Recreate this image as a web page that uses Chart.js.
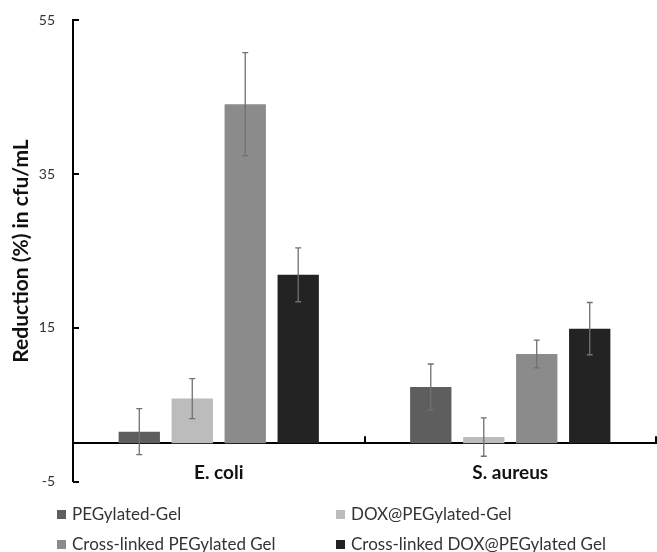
<!DOCTYPE html>
<html>
<head>
<meta charset="utf-8">
<script src="https://cdn.jsdelivr.net/npm/chart.js@4.4.1/dist/chart.umd.min.js"></script>
<style>
  html, body { margin: 0; padding: 0; background: #fff; overflow: hidden; }
  #wrap { position: relative; width: 657px; height: 552px; overflow: hidden; }
  #box { position: absolute; left: 0; top: -6px; width: 657px; height: 514px; }
  .leg { position: absolute; font-family: Lato, "Open Sans", sans-serif; font-size: 17px; color: #333; white-space: nowrap; line-height: 20px; }
  .leg i { display: inline-block; width: 9px; height: 9px; margin-right: 6px; vertical-align: 1px; }
</style>
</head>
<body>
<div id="wrap">
  <div id="box"><canvas id="chart"></canvas></div>
  <div id="legend"></div>
</div>
<script>
const categories = ['E. coli', 'S. aureus'];
const seriesNames = ['PEGylated-Gel', 'DOX@PEGylated-Gel', 'Cross-linked PEGylated Gel', 'Cross-linked DOX@PEGylated Gel'];
const pegGel = [1.5, 7.3];
const doxPegGel = [5.8, 0.8];
const crossPegGel = [44.1, 11.6];
const crossDoxPegGel = [21.9, 14.9];
const pegGelErr = [3.0, 3.0];
const doxPegGelErr = [2.6, 2.5];
const crossPegGelErr = [6.7, 1.8];
const crossDoxPegGelErr = [3.5, 3.4];
const yTicks = [-5, 15, 35, 55];

const colors = ['#5e5e5e', '#bcbcbc', '#8b8b8b', '#232323'];
const values = [pegGel, doxPegGel, crossPegGel, crossDoxPegGel];
const errors = [pegGelErr, doxPegGelErr, crossPegGelErr, crossDoxPegGelErr];

// error bars, inner ticks on the y axis, boundary ticks on the zero line
const extras = {
  id: 'extras',
  afterDatasetsDraw(chart) {
    const ctx = chart.ctx;
    const y = chart.scales.y, x = chart.scales.x;
    const area = chart.chartArea;
    ctx.save();
    ctx.strokeStyle = '#707070';
    ctx.lineWidth = 1.3;
    chart.data.datasets.forEach((ds, i) => {
      const meta = chart.getDatasetMeta(i);
      meta.data.forEach((bar, j) => {
        const v = ds.data[j], e = errors[i][j];
        const top = y.getPixelForValue(v + e), bot = y.getPixelForValue(v - e);
        ctx.beginPath();
        ctx.moveTo(bar.x, top); ctx.lineTo(bar.x, bot);
        ctx.moveTo(bar.x - 3, top); ctx.lineTo(bar.x + 3, top);
        ctx.moveTo(bar.x - 3, bot); ctx.lineTo(bar.x + 3, bot);
        ctx.stroke();
      });
    });
    ctx.strokeStyle = '#000';
    ctx.lineWidth = 2;
    ctx.beginPath();
    yTicks.forEach(t => {
      const py = Math.round(y.getPixelForValue(t));
      ctx.moveTo(area.left, py); ctx.lineTo(area.left + 6, py);
    });
    const y0 = y.getPixelForValue(0);
    const step = x.getPixelForValue(1) - x.getPixelForValue(0);
    for (let k = 0; k < categories.length; k++) {
      const px = Math.round(x.getPixelForValue(k) + step / 2);
      ctx.moveTo(px, y0); ctx.lineTo(px, y0 - 7);
    }
    ctx.stroke();
    ctx.restore();
  }
};

new Chart(document.getElementById('chart'), {
  type: 'bar',
  data: {
    labels: categories,
    datasets: seriesNames.map((name, i) => ({
      label: name,
      data: values[i],
      backgroundColor: colors[i],
      borderWidth: 0,
      categoryPercentage: 0.727,
      barPercentage: 0.78
    }))
  },
  options: {
    responsive: true,
    maintainAspectRatio: false,
    animation: false,
    layout: { padding: { top: 8, right: 1, bottom: 10, left: 0 } },
    plugins: { legend: { display: false }, tooltip: { enabled: false } },
    scales: {
      x: {
        position: { y: 0 },
        afterFit(scale) { scale.height = 0; },
        grid: { display: true, drawOnChartArea: false, drawTicks: false },
        border: { display: true, color: '#000', width: 2 },
        ticks: { color: '#111', padding: 18, font: { family: 'Lato', size: 19, weight: 'bold' } }
      },
      y: {
        min: -5,
        max: 55,
        afterBuildTicks(scale) { scale.ticks = yTicks.map(v => ({ value: v })); },
        afterFit(scale) { scale.width = 73; },
        grid: { display: true, drawOnChartArea: false, drawTicks: false },
        border: { display: true, color: '#000', width: 2 },
        ticks: { color: '#333', padding: 18, font: { family: 'Lato', size: 14 } },
        title: {
          display: true,
          text: 'Reduction (%) in cfu/mL',
          color: '#111',
          padding: { top: 9, bottom: 0 },
          font: { family: 'Lato', size: 21, weight: 'bold' }
        }
      }
    }
  },
  plugins: [extras]
});

const legendPos = [[57, 504], [336, 504], [57, 534], [336, 534]];
const legendEl = document.getElementById('legend');
seriesNames.forEach((name, i) => {
  const d = document.createElement('div');
  d.className = 'leg';
  d.style.left = legendPos[i][0] + 'px';
  d.style.top = legendPos[i][1] + 'px';
  d.innerHTML = '<i style="background:' + colors[i] + '"></i>' + name;
  legendEl.appendChild(d);
});
</script>
</body>
</html>
